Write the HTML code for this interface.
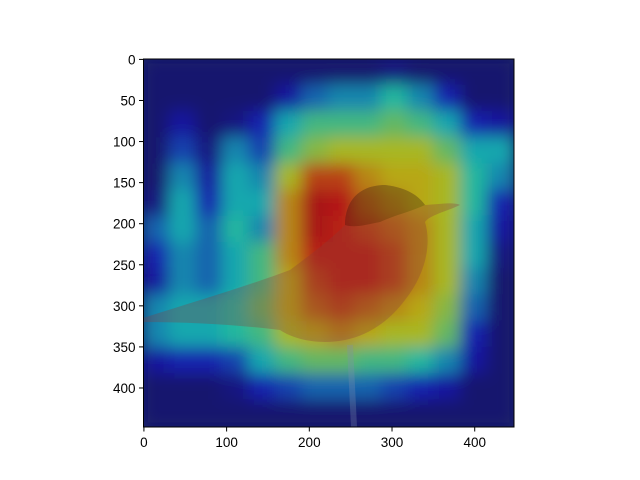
<!DOCTYPE html>
<html><head><meta charset="utf-8"><style>
body{margin:0;background:#fff;}
svg{display:block;font-family:"Liberation Sans","DejaVu Sans",sans-serif;}
</style></head><body>
<svg id="chart" width="640" height="480" xmlns="http://www.w3.org/2000/svg">
<defs>
<filter id="blur" x="-10%" y="-10%" width="120%" height="120%"><feGaussianBlur stdDeviation="8"/></filter>
<clipPath id="clip"><rect x="143.5" y="59" width="370.5" height="368"/></clipPath>
</defs>
<rect x="143.5" y="59" width="370.5" height="368" fill="#1a2466"/>
<g id="heat" clip-path="url(#clip)"><g id="cells" filter="url(#blur)"></g></g>
<g clip-path="url(#clip)" opacity="0.3">
<path d="M143 318 C200 300 250 285 290 270 C310 255 330 240 345 225 C345 200 360 185 385 185 C410 188 420 198 425 205 C440 204 455 202 460 205 C445 212 430 215 425 222 C432 245 425 275 405 300 C390 320 370 335 345 340 C320 345 295 340 280 330 C240 325 190 322 143 322 Z" fill="#8a3a3a"/>
<path d="M345 225 C345 200 360 185 385 185 C410 188 420 198 425 205 C410 212 395 215 380 222 C365 225 355 228 345 225 Z" fill="#2a1010"/>
<path d="M350 345 L354 427" stroke="#8090b0" stroke-width="6"/>
</g>
<rect x="143.5" y="59" width="370.5" height="368" fill="none" stroke="#000" stroke-width="1"/>
<g id="yticks"></g>
<g id="xticks"></g>
</svg>
<script>
const camRows = [
[.02,.02,.02,.02,.02,.02,.02,.02,.02,.05,.02,.02,.02,.02],
[.02,.02,.02,.02,.02,.1,.25,.3,.3,.4,.3,.15,.02,.02],
[.02,.1,.02,.05,.15,.35,.45,.45,.45,.5,.45,.35,.15,.1],
[.02,.2,.05,.3,.2,.45,.55,.6,.6,.6,.6,.5,.35,.35],
[.02,.3,.1,.35,.3,.6,.8,.8,.7,.65,.65,.6,.4,.3],
[.05,.35,.15,.35,.35,.7,.9,.88,.75,.7,.65,.6,.4,.15],
[.25,.35,.25,.4,.3,.7,.9,.85,.8,.75,.7,.6,.35,.1],
[.15,.3,.25,.35,.45,.7,.85,.85,.85,.8,.7,.6,.35,.05],
[.1,.3,.25,.35,.45,.65,.8,.85,.85,.8,.7,.6,.3,.02],
[.3,.35,.35,.4,.5,.65,.75,.8,.75,.7,.65,.55,.25,.02],
[.3,.35,.35,.4,.45,.6,.65,.7,.65,.6,.6,.5,.15,.02],
[.1,.15,.15,.2,.35,.45,.5,.5,.45,.45,.4,.3,.1,.02],
[.02,.02,.02,.05,.15,.2,.25,.25,.25,.2,.15,.1,.02,.02],
[.02,.02,.02,.02,.02,.02,.02,.02,.02,.02,.02,.02,.02,.02]
];
const yTickValues = [0,50,100,150,200,250,300,350,400];
const xTickValues = [0,100,200,300,400];
const imgSize = 448;
const X0=143.5, Y0=59, W=370.5, H=368;
const sx = v => X0 + (v)/imgSize*W;
const sy = v => Y0 + (v)/imgSize*H;
function jet(v){
  const c = x => Math.max(0,Math.min(1,x));
  const r=c(1.5-Math.abs(4*v-3)), g=c(1.5-Math.abs(4*v-2)), b=c(1.5-Math.abs(4*v-1));
  return `rgb(${Math.round(r*255*0.65+0.35*50)},${Math.round(g*255*0.65+0.35*50)},${Math.round(b*255*0.6+0.35*60)})`;
}
const NS="http://www.w3.org/2000/svg";
const cells=document.getElementById('cells');
const n=camRows.length, cs=imgSize/n;
camRows.forEach((row,i)=>row.forEach((v,j)=>{
  const r=document.createElementNS(NS,'rect');
  r.setAttribute('x',sx(j*cs)-1);r.setAttribute('y',sy(i*cs)-1);
  r.setAttribute('width',cs/imgSize*W+2);r.setAttribute('height',cs/imgSize*H+2);
  r.setAttribute('fill',jet(v));
  
  
  cells.appendChild(r);
}));
const yt=document.getElementById('yticks');
yTickValues.forEach(v=>{
  const y=sy(v+0.5);
  const l=document.createElementNS(NS,'line');
  l.setAttribute('x1',X0-4.5);l.setAttribute('x2',X0);l.setAttribute('y1',y);l.setAttribute('y2',y);l.setAttribute('stroke','#000');
  
  
  yt.appendChild(l);
  const t=document.createElementNS(NS,'text');
  t.setAttribute('x',X0-8);t.setAttribute('y',y+5);t.setAttribute('text-anchor','end');t.setAttribute('font-size','13.5');
  t.textContent=v;
  
  
  yt.appendChild(t);
});
const xt=document.getElementById('xticks');
xTickValues.forEach(v=>{
  const x=sx(v+0.5);
  const l=document.createElementNS(NS,'line');
  l.setAttribute('x1',x);l.setAttribute('x2',x);l.setAttribute('y1',Y0+H);l.setAttribute('y2',Y0+H+4.5);l.setAttribute('stroke','#000');
  
  
  xt.appendChild(l);
  const t=document.createElementNS(NS,'text');
  t.setAttribute('x',x);t.setAttribute('y',Y0+H+20);t.setAttribute('text-anchor','middle');t.setAttribute('font-size','13.5');
  t.textContent=v;
  
  
  xt.appendChild(t);
});
</script>
</body></html>
